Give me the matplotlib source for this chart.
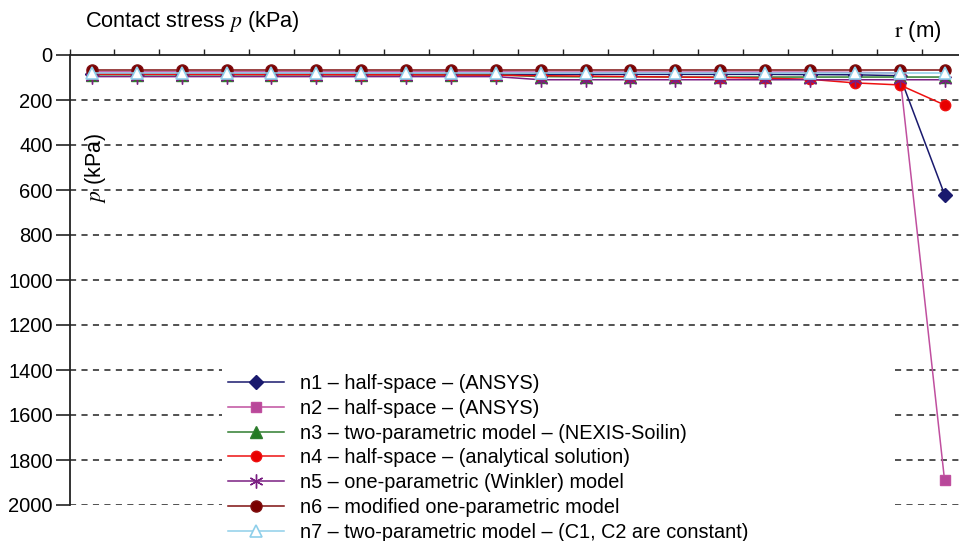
import numpy as np
import matplotlib
matplotlib.use("Agg")
import matplotlib.pyplot as plt
from matplotlib.patches import Rectangle

plt.rcParams["font.family"] = ["Liberation Sans", "DejaVu Sans"]
plt.rcParams["mathtext.fontset"] = "stix"

# ── data ──────────────────────────────────────────────────────────────────────
r_pos = list(range(1, 21))
n1 = [85, 85, 85, 85, 85, 85, 85, 85, 85, 85, 86, 86, 86, 86, 86, 86, 87, 88, 92, 620]
n2 = [75, 75, 75, 75, 75, 75, 75, 75, 75, 75, 76, 76, 76, 76, 76, 76, 76, 77, 80, 1890]
n3 = [88, 88, 88, 88, 88, 88, 88, 88, 88, 88, 96, 97, 97, 98, 98, 98, 98, 98, 98, 98]
n4 = [85, 85, 86, 86, 87, 87, 88, 88, 89, 90, 92, 94, 96, 98, 100, 103, 108, 124, 133, 222]
n5 = [96, 96, 96, 96, 96, 96, 96, 96, 96, 96, 110, 110, 110, 110, 110, 110, 110, 110, 110, 110]
n6 = [66, 66, 66, 66, 66, 66, 66, 66, 66, 66, 66, 66, 66, 66, 66, 66, 66, 66, 66, 66]
n7 = [80, 80, 80, 80, 80, 80, 80, 80, 80, 80, 80, 80, 80, 80, 80, 80, 80, 80, 80, 80]

labels = [
    "n1 – half-space – (ANSYS)",
    "n2 – half-space – (ANSYS)",
    "n3 – two-parametric model – (NEXIS-Soilin)",
    "n4 – half-space – (analytical solution)",
    "n5 – one-parametric (Winkler) model",
    "n6 – modified one-parametric model",
    "n7 – two-parametric model – (C1, C2 are constant)",
]
y_ticks = [0, 200, 400, 600, 800, 1000, 1200, 1400, 1600, 1800, 2000]

# ── figure ────────────────────────────────────────────────────────────────────
fig = plt.figure(figsize=(9.59, 5.41), dpi=100)
ax = fig.add_axes([69.5 / 959, 1 - 505 / 541, (967 - 69.5) / 959, (505 - 55) / 541])

styles = [
    dict(color="#1a1a6e", marker="D", ms=7, mfc="#1a1a6e"),
    dict(color="#c04f9f", marker="s", ms=7.5, mfc="#b8489a"),
    dict(color="#2f7d2f", marker="^", ms=8, mfc="#237a23"),
    dict(color="#ee1111", marker="o", ms=7.5, mfc="#e80000"),
    dict(color="#7a1f82", marker=(6, 2, 0), ms=10, mew=1.0),
    dict(color="#7f1010", marker="o", ms=8, mfc="#7a0000"),
    dict(color="#8fcfea", marker="^", ms=8.5, mfc="white", mew=1.2),
]
series = [n1, n2, n3, n4, n5, n6, n7]
handles = []
for vals, lab, st in zip(series, labels, styles):
    h, = ax.plot(r_pos, vals, lw=1.1, label=lab, clip_on=False, zorder=3, **st)
    handles.append(h)

ax.set_xlim(0.5, 20.5)
ax.set_ylim(2000, 0)
ax.set_yticks(y_ticks)
ax.set_xticks(np.arange(0.5, 21, 1.0))
ax.xaxis.tick_top()
ax.tick_params(axis="x", which="both", labeltop=False, labelbottom=False,
               direction="out", length=4, width=1, color="#222222")
ax.tick_params(axis="y", direction="out", length=10, width=1.2, pad=2,
               labelsize=14.5, color="#222222")

for s in ["bottom", "right"]:
    ax.spines[s].set_visible(False)
ax.spines["left"].set_linewidth(1.3)
ax.spines["top"].set_linewidth(1.3)
ax.spines["left"].set_color("#222222")
ax.spines["top"].set_color("#222222")

for yv in y_ticks[1:]:
    ax.axhline(yv, color="#222222", lw=1.1, ls=(0, (4, 3.5)), zorder=1)

# white box behind the legend hides the gridlines
fig.patches.append(Rectangle((222 / 959, 0), (893 - 222) / 959, 1 - 362 / 541,
                             transform=fig.transFigure, facecolor="white",
                             edgecolor="none", zorder=2))

leg = fig.legend(handles=handles, loc="upper left",
                 bbox_to_anchor=(228 / 959, 1 - 374 / 541), frameon=False,
                 fontsize=14.3, handlelength=2.8, handletextpad=0.85,
                 labelspacing=0.29, borderpad=0, borderaxespad=0)
leg.set_zorder(5)

fig.text(85 / 959, 1 - 22 / 541, r"Contact stress $\mathit{p}$ (kPa)",
         fontsize=15.7, va="center", ha="left")
fig.text(894 / 959, 1 - 31 / 541, r"$\mathrm{r}$ (m)", fontsize=16,
         va="center", ha="left")
fig.text(96 / 959, 1 - 168 / 541, r"$\mathit{p}$ (kPa)", fontsize=15.5,
         rotation=90, va="center", ha="center")

fig.savefig("out.png", dpi=100, facecolor="white")
